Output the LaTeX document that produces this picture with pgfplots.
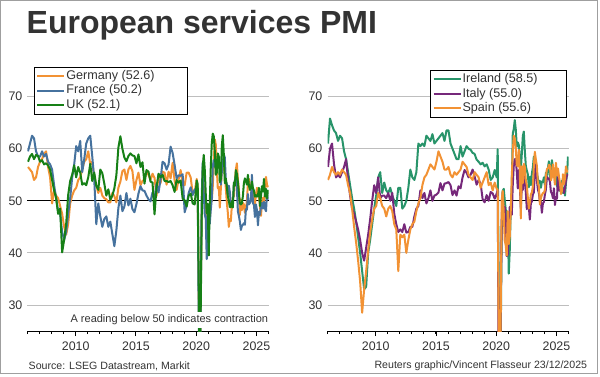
\documentclass[border=0pt]{standalone}
\usepackage{fontspec}
\setmainfont{Liberation Sans}
\usepackage{pgfplots}
\usepackage{pgfplotstable}
\pgfplotsset{compat=1.18}

\definecolor{cDE}{RGB}{242,146,52}
\definecolor{cFR}{RGB}{70,114,158}
\definecolor{cUK}{RGB}{22,128,22}
\definecolor{cIE}{RGB}{40,148,106}
\definecolor{cIT}{RGB}{118,40,122}
\definecolor{cES}{RGB}{242,146,52}
\definecolor{gridc}{RGB}{190,190,190}
\definecolor{txt}{RGB}{51,51,51}

% y = year, m = month
\pgfplotstableread{
y m de fr uk
2006 1 56.5 59.5 57.5
2006 3 56.0 61.0 58.5
2006 5 55.5 62.5 59.0
2006 7 54.0 62.0 58.0
2006 9 54.5 59.5 58.8
2006 11 56.5 58.5 58.6
2007 1 57.5 58.5 57.5
2007 3 58.0 59.5 57.8
2007 5 59.0 58.5 57.0
2007 7 59.5 59.0 57.2
2007 9 56.5 57.5 56.8
2007 11 54.5 57.0 56.0
2008 1 49.5 56.0 54.0
2008 3 52.0 53.0 52.0
2008 5 51.0 50.5 50.5
2008 7 50.5 48.0 47.5
2008 9 49.0 47.5 48.5
2008 11 47.5 44.0 40.1
2009 1 45.0 42.5 42.5
2009 3 43.5 44.0 45.5
2009 5 45.5 47.5 51.1
2009 7 49.5 50.5 53.8
2009 9 51.0 54.5 55.0
2009 11 52.0 57.0 56.8
2010 1 52.5 60.5 54.5
2010 3 54.0 59.5 56.5
2010 5 54.5 61.5 55.4
2010 7 56.0 55.5 53.1
2010 9 57.5 58.0 53.4
2010 11 58.0 61.0 53.0
2011 1 59.5 62.0 54.5
2011 3 57.0 62.5 57.1
2011 5 57.5 58.5 53.8
2011 7 54.5 54.0 55.4
2011 9 53.0 45.5 52.9
2011 11 51.5 49.5 52.1
2012 1 52.5 47.0 56.0
2012 3 51.0 45.0 55.3
2012 5 50.5 46.5 53.3
2012 7 50.3 47.0 51.0
2012 9 49.7 45.0 52.2
2012 11 49.7 46.0 50.2
2013 1 51.5 43.6 51.0
2013 3 50.9 41.3 52.4
2013 5 49.7 44.3 54.9
2013 7 52.5 48.6 60.2
2013 9 53.7 51.0 62.4
2013 11 55.7 48.0 60.0
2014 1 56.0 48.9 58.3
2014 3 54.0 51.5 57.6
2014 5 56.0 49.1 58.6
2014 7 56.7 50.4 59.1
2014 9 55.7 48.4 58.7
2014 11 52.1 47.8 58.6
2015 1 54.0 49.4 57.2
2015 3 55.4 51.4 58.9
2015 5 53.0 52.8 56.5
2015 7 53.8 52.0 57.4
2015 9 54.1 51.9 53.3
2015 11 55.6 51.0 55.9
2016 1 55.0 50.3 55.6
2016 3 54.0 49.9 53.7
2016 5 55.2 51.6 53.5
2016 7 54.4 50.5 47.4
2016 9 50.9 53.3 52.6
2016 11 55.1 51.6 55.2
2017 1 53.4 54.1 54.5
2017 3 55.6 57.5 55.0
2017 5 55.4 57.2 53.8
2017 7 53.1 56.0 53.8
2017 9 55.6 57.0 53.6
2017 11 54.3 60.4 53.8
2018 1 57.3 59.2 53.0
2018 3 53.9 56.9 51.7
2018 5 52.1 54.3 54.0
2018 7 54.1 54.9 53.5
2018 9 55.9 54.8 53.9
2018 11 53.3 55.1 50.4
2019 1 53.0 47.8 50.1
2019 3 55.4 49.1 48.9
2019 5 55.4 51.5 51.0
2019 7 54.5 52.6 51.4
2019 9 51.4 51.1 49.5
2019 11 51.7 52.2 49.3
2020 1 54.2 51.0 53.9
2020 2 52.5 52.5 53.2
2020 3 31.7 27.4 34.5
2020 4 16.2 10.2 13.4
2020 5 32.6 31.1 29.0
2020 6 47.3 50.7 47.1
2020 7 55.6 57.3 56.5
2020 8 52.5 51.5 58.8
2020 9 50.6 47.5 56.1
2020 10 49.5 46.5 51.4
2020 11 46.0 38.8 47.6
2020 12 47.0 49.1 49.4
2021 1 46.7 47.3 39.5
2021 2 45.7 45.6 49.5
2021 3 51.5 48.2 56.3
2021 4 49.9 50.3 61.0
2021 5 52.8 56.6 62.9
2021 6 57.5 57.8 62.4
2021 7 61.8 56.8 59.6
2021 8 60.8 56.3 55.0
2021 9 56.2 56.2 55.4
2021 10 52.4 56.6 59.1
2021 11 52.7 57.4 58.5
2021 12 48.7 57.0 53.6
2022 1 52.2 53.1 54.1
2022 2 55.8 55.5 60.5
2022 3 56.1 57.4 62.6
2022 4 57.6 58.9 58.9
2022 5 55.0 58.3 53.4
2022 6 52.4 53.9 54.3
2022 7 49.7 53.2 52.6
2022 8 47.7 51.2 50.9
2022 9 45.0 52.9 50.0
2022 10 46.5 51.7 48.8
2022 11 46.1 49.3 48.8
2022 12 49.2 49.5 49.9
2023 1 50.7 49.4 48.7
2023 2 50.9 53.1 53.5
2023 3 53.7 53.9 52.9
2023 4 56.0 54.6 55.9
2023 5 57.2 52.5 55.2
2023 6 54.1 48.0 53.7
2023 7 52.3 47.1 51.5
2023 8 47.3 46.0 49.5
2023 9 50.3 44.4 49.3
2023 10 48.2 45.2 49.5
2023 11 49.6 45.4 50.9
2023 12 49.3 45.7 53.4
2024 1 47.7 45.4 54.3
2024 2 48.3 48.4 53.8
2024 3 50.1 48.3 53.1
2024 4 53.2 51.3 55.0
2024 5 54.2 49.3 52.9
2024 6 53.1 49.6 52.1
2024 7 52.5 50.1 52.5
2024 8 51.2 55.0 53.7
2024 9 50.6 49.6 52.4
2024 10 51.6 49.2 52.0
2024 11 49.3 46.9 50.8
2024 12 51.2 49.3 51.1
2025 1 52.5 48.2 50.8
2025 2 51.1 45.3 51.0
2025 3 50.9 47.9 52.5
2025 4 49.0 47.3 49.0
2025 5 47.1 48.9 50.9
2025 6 49.7 49.6 52.8
2025 7 50.6 48.5 51.8
2025 8 49.3 49.8 54.2
2025 9 51.5 48.5 50.8
2025 10 54.6 48.0 52.3
2025 11 53.1 51.4 50.5
2025 12 52.6 50.2 52.1
}\tabL

\pgfplotstableread{
y m ie it es
2006 1 61.0 56.5 54.0
2006 3 65.8 60.0 55.0
2006 5 64.5 61.0 56.5
2006 7 63.5 57.0 55.5
2006 9 63.0 54.5 55.0
2006 11 61.5 55.0 55.5
2007 1 62.5 54.5 55.0
2007 3 62.0 55.5 56.0
2007 5 59.5 56.5 55.5
2007 7 58.0 58.0 55.0
2007 9 55.5 54.0 53.0
2007 11 53.0 51.0 51.5
2008 1 50.5 48.5 48.5
2008 3 48.5 47.5 45.0
2008 5 46.0 46.0 42.0
2008 7 43.0 44.5 38.5
2008 9 40.0 42.5 34.5
2008 11 36.5 40.0 28.5
2009 1 33.0 38.5 33.0
2009 3 33.5 41.0 36.5
2009 5 40.0 43.5 40.5
2009 7 42.5 46.5 44.0
2009 9 45.5 50.0 46.5
2009 11 48.5 53.0 48.5
2010 1 51.0 51.5 49.0
2010 3 54.5 54.5 51.5
2010 5 55.5 50.5 50.5
2010 7 51.5 51.0 49.0
2010 9 53.5 51.0 48.5
2010 11 52.0 50.5 47.0
2011 1 51.5 51.5 48.5
2011 3 52.5 50.0 49.0
2011 5 51.0 51.5 48.0
2011 7 50.0 47.5 45.5
2011 9 49.0 45.5 44.5
2011 11 52.5 44.0 36.5
2012 1 52.5 44.5 43.5
2012 3 48.5 44.0 43.0
2012 5 49.0 45.5 43.5
2012 7 50.0 43.9 40.0
2012 9 52.5 44.0 42.5
2012 11 56.0 45.0 44.5
2013 1 54.5 45.0 45.5
2013 3 54.0 47.0 46.0
2013 5 55.5 48.5 48.0
2013 7 61.0 49.0 49.5
2013 9 60.5 52.0 50.5
2013 11 61.0 50.5 53.0
2014 1 60.5 51.5 54.5
2014 3 62.5 49.5 55.0
2014 5 62.0 50.5 56.0
2014 7 61.5 52.0 57.0
2014 9 62.8 50.0 56.5
2014 11 61.0 51.0 56.0
2015 1 61.5 51.2 57.5
2015 3 62.0 51.6 59.5
2015 5 62.5 53.4 58.5
2015 7 63.0 52.0 57.5
2015 9 61.5 53.3 56.0
2015 11 63.5 53.4 56.0
2016 1 63.5 53.6 56.5
2016 3 61.0 53.0 55.0
2016 5 60.0 51.1 54.5
2016 7 59.0 52.0 55.5
2016 9 58.0 51.0 55.0
2016 11 58.0 52.8 55.5
2017 1 60.5 52.4 56.0
2017 3 58.5 54.5 57.5
2017 5 59.5 55.9 57.0
2017 7 60.5 55.4 56.5
2017 9 60.0 54.5 55.0
2017 11 59.8 55.0 54.5
2018 1 59.2 56.0 54.0
2018 3 59.0 54.7 55.5
2018 5 57.9 53.1 55.0
2018 7 57.5 54.0 54.5
2018 9 57.0 53.3 52.5
2018 11 57.3 50.3 53.5
2019 1 56.6 49.7 54.5
2019 3 57.0 51.1 55.5
2019 5 56.0 50.0 53.0
2019 7 54.0 51.7 53.5
2019 9 54.5 51.4 52.0
2019 11 55.9 50.4 53.5
2020 1 54.5 51.4 52.3
2020 2 59.9 52.1 52.1
2020 3 32.5 17.4 23.0
2020 4 13.9 10.8 7.1
2020 5 23.2 28.9 27.9
2020 6 44.3 46.4 50.2
2020 7 51.9 51.6 51.9
2020 8 52.3 47.1 47.7
2020 9 50.2 48.8 42.4
2020 10 48.3 46.7 41.4
2020 11 46.0 39.4 39.5
2020 12 47.5 39.7 48.0
2021 1 36.0 44.7 41.7
2021 2 40.5 48.8 43.1
2021 3 48.4 48.6 48.1
2021 4 52.5 47.3 54.6
2021 5 62.9 53.1 59.4
2021 6 63.8 56.7 62.5
2021 7 65.5 58.0 61.9
2021 8 63.7 58.0 60.1
2021 9 60.4 55.5 56.9
2021 10 61.2 52.4 56.6
2021 11 60.7 55.9 59.8
2021 12 58.3 53.0 55.8
2022 1 55.9 48.5 46.6
2022 2 59.0 52.8 56.6
2022 3 62.4 52.1 53.4
2022 4 63.3 55.7 57.1
2022 5 59.6 53.7 56.5
2022 6 56.7 51.6 54.0
2022 7 55.8 48.4 53.0
2022 8 55.1 50.5 50.6
2022 9 52.6 48.8 48.5
2022 10 54.6 46.4 49.7
2022 11 53.0 49.5 51.2
2022 12 55.2 49.9 51.6
2023 1 56.4 51.2 52.7
2023 2 58.5 51.6 56.7
2023 3 54.6 55.7 59.4
2023 4 56.2 57.6 57.9
2023 5 55.4 54.0 56.7
2023 6 54.3 52.2 53.4
2023 7 53.5 51.5 52.8
2023 8 53.8 49.8 49.3
2023 9 52.5 49.9 50.5
2023 10 53.7 47.7 51.1
2023 11 53.6 49.5 51.5
2023 12 54.5 49.8 51.5
2024 1 53.0 51.2 52.1
2024 2 55.4 52.2 54.7
2024 3 54.9 54.6 56.1
2024 4 56.3 54.3 56.2
2024 5 57.6 54.2 56.9
2024 6 54.4 53.7 56.8
2024 7 55.9 51.7 53.9
2024 8 57.8 51.4 54.6
2024 9 56.4 50.5 57.0
2024 10 56.0 52.4 54.9
2024 11 54.6 49.2 53.1
2024 12 55.3 50.7 57.3
2025 1 52.8 50.4 54.9
2025 2 53.0 54.6 56.2
2025 3 53.5 52.0 54.7
2025 4 51.9 52.9 53.4
2025 5 52.7 53.2 51.3
2025 6 53.9 52.1 51.9
2025 7 51.5 52.3 55.1
2025 8 52.5 51.5 53.2
2025 9 51.0 52.5 54.3
2025 10 53.5 54.0 56.6
2025 11 55.0 55.0 55.6
2025 12 58.5 55.0 55.6
}\tabR

\pgfplotsset{
  pmi/.style={
    scale only axis, width=241pt, height=265.6pt,
    xmin=2006, xmax=2026, ymin=25, ymax=76,
    axis lines=left, axis line style={-},
    x axis line style={black, line width=0.9pt},
    y axis line style={draw=none},
    tick align=outside,
    xtick={2010,2015,2020,2025},
    minor xtick={2006,...,2026},
    major tick length=5pt, minor tick length=3pt,
    xtick style={black, line width=0.9pt},
    minor x tick style={black, line width=0.9pt},
    ytick={30,40,60,70},
    ytick style={draw=none},
    ymajorgrids,
    grid style={gridc, line width=0.9pt},
    extra y ticks={50},
    extra y tick style={grid style={black, line width=1pt}, tick style={draw=none}},
    /pgf/number format/1000 sep={},
    /pgf/number format/assume math mode=true,
    tick label style={font=\fontsize{12.4}{14}\selectfont, text=txt},
    xticklabel style={inner sep=0pt, anchor=north, yshift=-6pt},
    yticklabel style={inner sep=0pt, anchor=east},
    legend cell align=left,
    legend style={draw=black, line width=0.8pt, fill=white,
      font=\fontsize{12.6}{14}\selectfont, text=txt,
      inner sep=2pt,
      nodes={inner sep=1pt, text height=9.5pt, text depth=2.8pt},
      row sep=0pt},
    legend image code/.code={\draw[#1, line width=2pt] (0pt,0pt) -- (27pt,0pt);},
    clip=true,
  },
  ln/.style={line width=2pt, line join=round, mark=none},
}

\begin{document}
\begin{tikzpicture}[x=1pt, y=1pt]
\useasboundingbox (0,0) rectangle (600,376);
\fill[white] (0,0) rectangle (600,376);
\draw[gray!75, line width=1.2pt] (0.8,2.7) rectangle (597.7,375.6);

\node[anchor=base west, inner sep=0pt, text=txt, font=\fontsize{32}{33}\selectfont\bfseries] at (26.5,342.7) {European services PMI};

\begin{axis}[pmi, at={(27.5pt,45pt)}, anchor=south west,
  legend style={at={(0.027,0.995)}, anchor=north west}]
\addplot[cDE, ln] table[x expr=\thisrow{y}+(\thisrow{m}-0.5)/12, y=de] {\tabL};
\addplot[cFR, ln] table[x expr=\thisrow{y}+(\thisrow{m}-0.5)/12, y=fr] {\tabL};
\addplot[cUK, ln] table[x expr=\thisrow{y}+(\thisrow{m}-0.5)/12, y=uk] {\tabL};
\legend{\makebox[118pt][l]{Germany (52.6)}, France (50.2), UK (52.1)}
\end{axis}

\begin{axis}[pmi, at={(327.5pt,45pt)}, anchor=south west,
  legend style={at={(0.426,0.983)}, anchor=north west}]
\addplot[cIE, ln] table[x expr=\thisrow{y}+(\thisrow{m}-0.5)/12, y=ie] {\tabR};
\addplot[cIT, ln] table[x expr=\thisrow{y}+(\thisrow{m}-0.5)/12, y=it] {\tabR};
\addplot[cES, ln] table[x expr=\thisrow{y}+(\thisrow{m}-0.5)/12, y=es] {\tabR};
\legend{\makebox[101pt][l]{Ireland (58.5)}, Italy (55.0), Spain (55.6)}
\end{axis}

\node[anchor=base east, inner xsep=1pt, inner ysep=3pt, fill=white, text=txt, font=\fontsize{11}{12}\selectfont] at (269.3,53.3) {A reading below 50 indicates contraction};
\node[anchor=base west, inner sep=0pt, text=txt, font=\fontsize{10.6}{12}\selectfont] at (28.5,7) {Source: LSEG Datastream, Markit};
\node[anchor=base east, inner sep=0pt, text=txt, font=\fontsize{10.6}{12}\selectfont] at (587.3,7.3) {Reuters graphic/Vincent Flasseur 23/12/2025};
\end{tikzpicture}
\end{document}
